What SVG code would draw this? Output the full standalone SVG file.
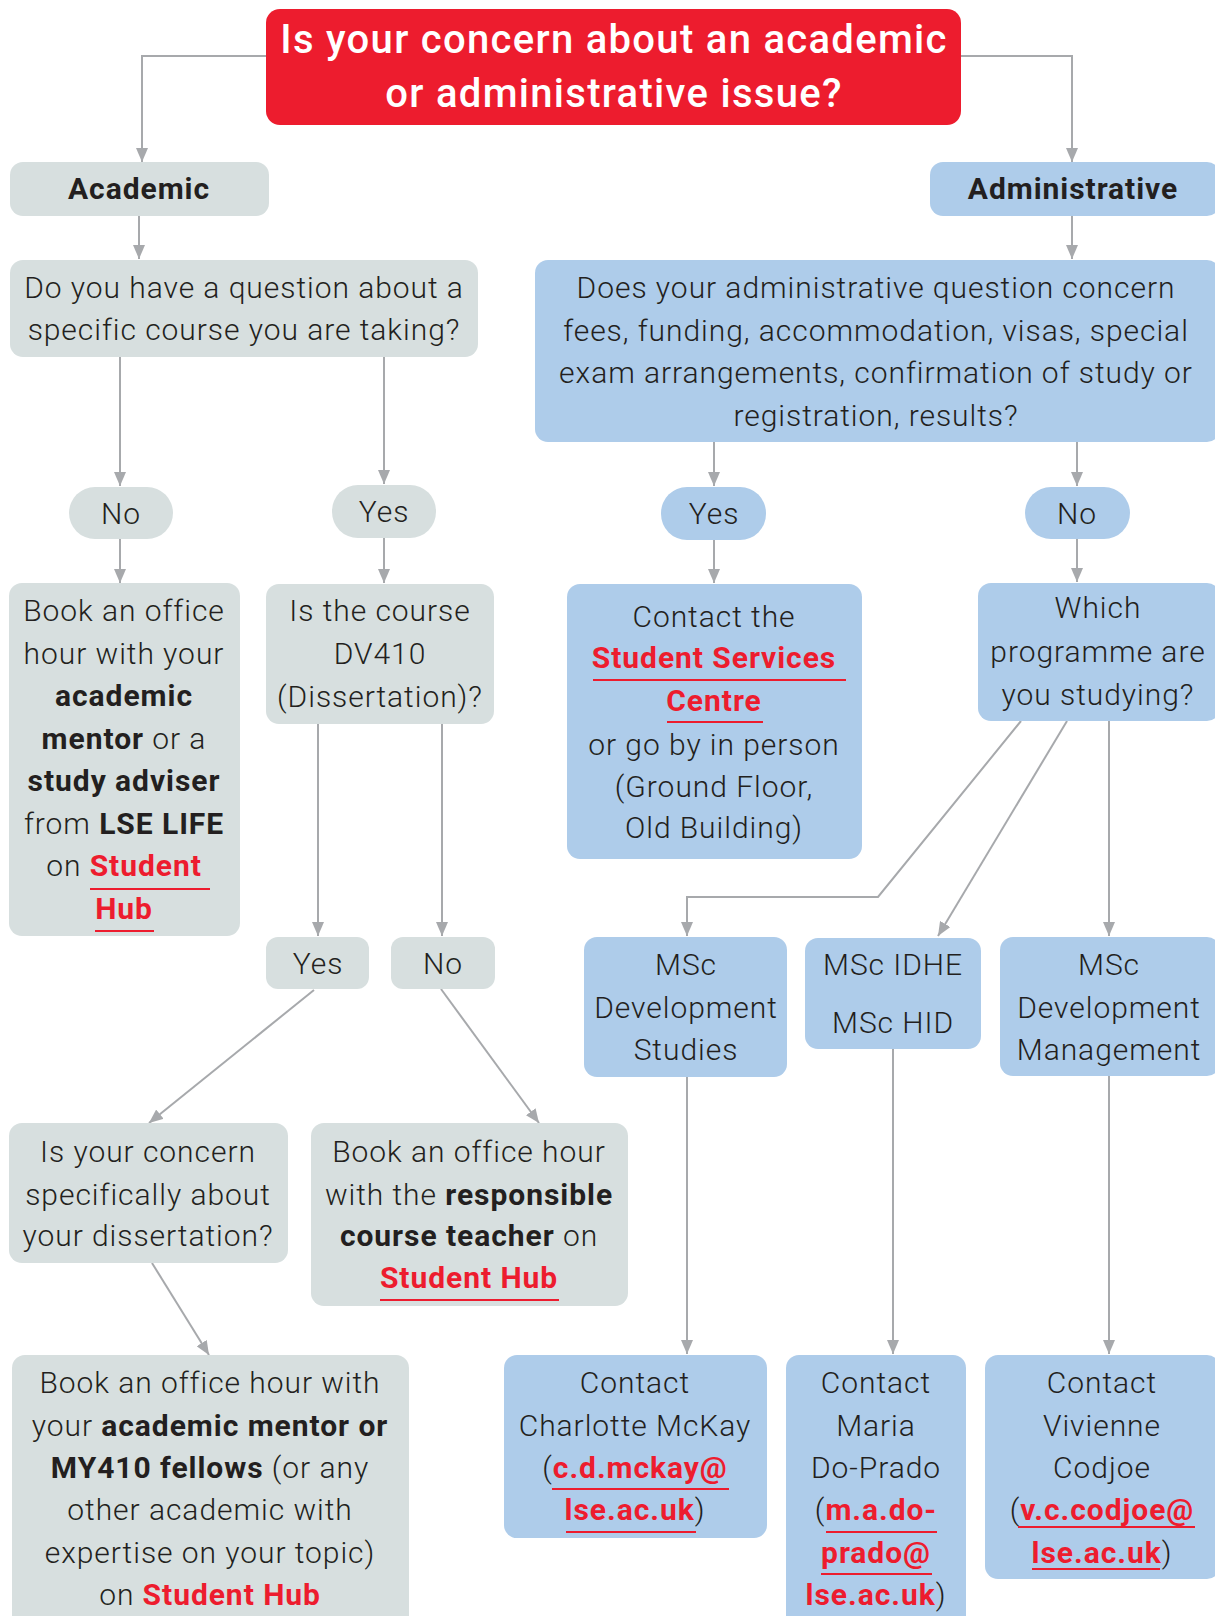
<svg xmlns="http://www.w3.org/2000/svg" width="1215" height="1616" viewBox="0 0 1215 1616">
<defs>
<style>
.t{font-family:"Roboto Light",Roboto,"Liberation Sans",sans-serif;font-size:30px;font-weight:300;letter-spacing:0.95px;fill:#231F20;text-anchor:middle}
.b{font-family:Roboto,"Liberation Sans",sans-serif;font-weight:700}
.r{font-family:Roboto,"Liberation Sans",sans-serif;font-weight:700;fill:#ED1C2E}
.title{font-family:Roboto,"Liberation Sans",sans-serif;font-size:40px;font-weight:500;letter-spacing:1.3px;fill:#FFFFFF;text-anchor:middle}
.grey{fill:#D7DFDF}
.blue{fill:#AECCEA}
.red{fill:#ED1C2E}
.conn{stroke:#A7A9AC;stroke-width:2;fill:none;marker-end:url(#arr)}
.ul{stroke:#ED1C2E;stroke-width:2}
</style>
<marker id="arr" markerUnits="userSpaceOnUse" markerWidth="14" markerHeight="12" viewBox="0 0 14 12" refX="14" refY="6" orient="auto">
<path d="M0,0 L14,6 L0,12 z" fill="#A7A9AC"/>
</marker>
</defs>
<rect width="1215" height="1616" fill="#FFFFFF"/>

<g id="connectors">
<path class="conn" d="M266,56 H142 V162"/>
<path class="conn" d="M961,56 H1072 V162"/>
<path class="conn" d="M139,216 V259"/>
<path class="conn" d="M1072,216 V259"/>
<path class="conn" d="M120,357 V486"/>
<path class="conn" d="M384,357 V484"/>
<path class="conn" d="M714,442 V486"/>
<path class="conn" d="M1077,442 V486"/>
<path class="conn" d="M120,539 V583"/>
<path class="conn" d="M384,538 V583"/>
<path class="conn" d="M714,540 V583"/>
<path class="conn" d="M1077,539 V582"/>
<path class="conn" d="M318,724 V936"/>
<path class="conn" d="M442,724 V936"/>
<path class="conn" d="M314,990 L149,1123"/>
<path class="conn" d="M441,989 L539,1123"/>
<path class="conn" d="M152,1263 L209,1355"/>
<path class="conn" d="M1021,721 L878,897 H687 V936"/>
<path class="conn" d="M1067,721 L938,936"/>
<path class="conn" d="M1109,721 V936"/>
<path class="conn" d="M687,1077 V1354"/>
<path class="conn" d="M893,1049 V1354"/>
<path class="conn" d="M1109,1076 V1354"/>
</g>

<g id="title">
<rect class="red" x="266" y="9" width="695" height="116" rx="14"/>
<text class="title" x="614" y="53">Is your concern about an academic</text>
<text class="title" x="614" y="107">or administrative issue?</text>
</g>

<g id="academic">
<rect class="grey" x="10" y="162" width="259" height="54" rx="13"/>
<text class="t b" x="139" y="199">Academic</text>
</g>

<g id="administrative">
<rect class="blue" x="930" y="162" width="290" height="54" rx="13"/>
<text class="t b" x="1073" y="199">Administrative</text>
</g>

<g id="q-course">
<rect class="grey" x="10" y="260" width="468" height="97" rx="13"/>
<text class="t" x="244" y="298">Do you have a question about a</text>
<text class="t" x="244" y="340">specific course you are taking?</text>
</g>

<g id="q-admin">
<rect class="blue" x="535" y="260" width="685" height="182" rx="13"/>
<text class="t" x="876" y="298">Does your administrative question concern</text>
<text class="t" x="876" y="341">fees, funding, accommodation, visas, special</text>
<text class="t" x="876" y="383">exam arrangements, confirmation of study or</text>
<text class="t" x="876" y="426">registration, results?</text>
</g>

<g id="no-course">
<rect class="grey" x="69" y="487" width="104" height="52" rx="26"/>
<text class="t" x="121" y="524">No</text>
</g>

<g id="yes-course">
<rect class="grey" x="332" y="485" width="104" height="53" rx="26"/>
<text class="t" x="384" y="522">Yes</text>
</g>

<g id="yes-admin">
<rect class="blue" x="661" y="487" width="105" height="53" rx="26"/>
<text class="t" x="714" y="524">Yes</text>
</g>

<g id="no-admin">
<rect class="blue" x="1025" y="487" width="105" height="52" rx="26"/>
<text class="t" x="1077" y="524">No</text>
</g>

<g id="book-mentor-life">
<rect class="grey" x="9" y="583" width="231" height="353" rx="13"/>
<text class="t" x="124" y="621">Book an office</text>
<text class="t" x="124" y="664">hour with your</text>
<text class="t b" x="124" y="706">academic</text>
<text class="t" x="124" y="749"><tspan class="b">mentor</tspan> or a</text>
<text class="t b" x="124" y="791">study adviser</text>
<text class="t" x="124" y="834">from <tspan class="b">LSE LIFE</tspan></text>
<text class="t" x="124" y="876">on <tspan class="r">Student</tspan></text>
<text class="t r" x="124" y="919">Hub</text>
<line class="ul" x1="90" y1="889" x2="210" y2="889"/>
<line class="ul" x1="95" y1="931" x2="154" y2="931"/>
</g>

<g id="q-dv410">
<rect class="grey" x="266" y="584" width="228" height="140" rx="13"/>
<text class="t" x="380" y="621">Is the course</text>
<text class="t" x="380" y="664">DV410</text>
<text class="t" x="380" y="707">(Dissertation)?</text>
</g>

<g id="contact-ssc">
<rect class="blue" x="567" y="584" width="295" height="275" rx="13"/>
<text class="t" x="714" y="627">Contact the</text>
<text class="t r" x="714" y="668">Student Services</text>
<line class="ul" x1="593" y1="680" x2="846" y2="680"/>
<text class="t r" x="714" y="711">Centre</text>
<line class="ul" x1="667" y1="722" x2="763" y2="722"/>
<text class="t" x="714" y="755">or go by in person</text>
<text class="t" x="714" y="797">(Ground Floor,</text>
<text class="t" x="714" y="838">Old Building)</text>
</g>

<g id="q-programme">
<rect class="blue" x="978" y="583" width="242" height="138" rx="13"/>
<text class="t" x="1098" y="618">Which</text>
<text class="t" x="1098" y="662">programme are</text>
<text class="t" x="1098" y="705">you studying?</text>
</g>

<g id="yes-dv410">
<rect class="grey" x="266" y="937" width="103" height="52" rx="12"/>
<text class="t" x="318" y="974">Yes</text>
</g>

<g id="no-dv410">
<rect class="grey" x="391" y="937" width="104" height="52" rx="12"/>
<text class="t" x="443" y="974">No</text>
</g>

<g id="msc-ds">
<rect class="blue" x="584" y="937" width="203" height="140" rx="13"/>
<text class="t" x="686" y="975">MSc</text>
<text class="t" x="686" y="1018">Development</text>
<text class="t" x="686" y="1060">Studies</text>
</g>

<g id="msc-idhe">
<rect class="blue" x="805" y="938" width="176" height="111" rx="13"/>
<text class="t" x="893" y="975">MSc IDHE</text>
<text class="t" x="893" y="1033">MSc HID</text>
</g>

<g id="msc-dm">
<rect class="blue" x="1000" y="937" width="220" height="139" rx="13"/>
<text class="t" x="1109" y="975">MSc</text>
<text class="t" x="1109" y="1018">Development</text>
<text class="t" x="1109" y="1060">Management</text>
</g>

<g id="q-dissertation">
<rect class="grey" x="9" y="1123" width="279" height="140" rx="13"/>
<text class="t" x="148" y="1162">Is your concern</text>
<text class="t" x="148" y="1205">specifically about</text>
<text class="t" x="148" y="1246">your dissertation?</text>
</g>

<g id="book-teacher">
<rect class="grey" x="311" y="1123" width="317" height="183" rx="13"/>
<text class="t" x="469" y="1162">Book an office hour</text>
<text class="t" x="469" y="1205">with the <tspan class="b">responsible</tspan></text>
<text class="t" x="469" y="1246"><tspan class="b">course teacher</tspan> on</text>
<text class="t r" x="469" y="1288">Student Hub</text>
<line class="ul" x1="380" y1="1300" x2="559" y2="1300"/>
</g>

<g id="book-mentor-my410">
<rect class="grey" x="12" y="1355" width="397" height="290" rx="13"/>
<text class="t" x="210" y="1393">Book an office hour with</text>
<text class="t" x="210" y="1436">your <tspan class="b">academic mentor or</tspan></text>
<text class="t" x="210" y="1478"><tspan class="b">MY410 fellows</tspan> (or any</text>
<text class="t" x="210" y="1520">other academic with</text>
<text class="t" x="210" y="1563">expertise on your topic)</text>
<text class="t" x="210" y="1605">on <tspan class="r">Student Hub</tspan></text>
</g>

<g id="contact-mckay">
<rect class="blue" x="504" y="1355" width="263" height="183" rx="13"/>
<text class="t" x="635" y="1393">Contact</text>
<text class="t" x="635" y="1436">Charlotte McKay</text>
<text class="t" x="635" y="1478">(<tspan class="r">c.d.mckay@</tspan></text>
<line class="ul" x1="552" y1="1489" x2="729" y2="1489"/>
<text class="t" x="635" y="1520"><tspan class="r">lse.ac.uk</tspan>)</text>
<line class="ul" x1="566" y1="1532" x2="696" y2="1532"/>
</g>

<g id="contact-doprado">
<rect class="blue" x="786" y="1355" width="180" height="290" rx="13"/>
<text class="t" x="876" y="1393">Contact</text>
<text class="t" x="876" y="1436">Maria</text>
<text class="t" x="876" y="1478">Do-Prado</text>
<text class="t" x="876" y="1520">(<tspan class="r">m.a.do-</tspan></text>
<line class="ul" x1="826" y1="1532" x2="937" y2="1532"/>
<text class="t r" x="876" y="1563">prado@</text>
<line class="ul" x1="821" y1="1574" x2="932" y2="1574"/>
<text class="t" x="876" y="1605"><tspan class="r">lse.ac.uk</tspan>)</text>
</g>

<g id="contact-codjoe">
<rect class="blue" x="985" y="1355" width="235" height="224" rx="13"/>
<text class="t" x="1102" y="1393">Contact</text>
<text class="t" x="1102" y="1436">Vivienne</text>
<text class="t" x="1102" y="1478">Codjoe</text>
<text class="t" x="1102" y="1520">(<tspan class="r">v.c.codjoe@</tspan></text>
<line class="ul" x1="1018" y1="1527" x2="1195" y2="1527"/>
<text class="t" x="1102" y="1563"><tspan class="r">lse.ac.uk</tspan>)</text>
<line class="ul" x1="1032" y1="1569" x2="1160" y2="1569"/>
</g>
</svg>
